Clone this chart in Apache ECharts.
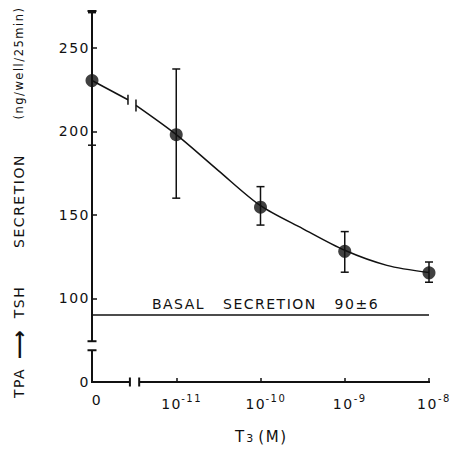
<!DOCTYPE html>
<html><head><meta charset="utf-8">
<script src="https://cdn.jsdelivr.net/npm/echarts@6/dist/echarts.min.js"></script>
<style>
html,body{margin:0;padding:0;background:#fff}
#c{width:456px;height:449px}
#c svg text{letter-spacing:1.5px}
</style>
</head><body><div id="c"></div>
<script>
// x positions are log10 of T3 concentration; the control ("0") is drawn at -12
const concLog = [-12, -11, -10, -9, -8];
const xTickLabels = ['0', '{b|10}{s|-11}', '{b|10}{s|-10}', '{b|10}{s|-9}', '{b|10}{s|-8}'];
const xTickMarks = [-11, -10, -9, -8];
// TSH secretion (ng/well/25min), mean and error bar ends
const secretionMean = [230.4, 198, 154.6, 128.2, 115.3];
const errLow = [191.7, 160, 143.9, 115.7, 109.7];
const errHigh = [271, 237.3, 166.9, 140, 121.8];
// fitted curve (broken near the axis break)
const curveSegA = [[-12, 230.4], [-11.573, 218.9]];
const curveSegB = [[-11.478, 215.5], [-11, 198], [-10.5, 176.5], [-10, 155.5], [-9.5, 141.8],
                   [-9, 128.8], [-8.5, 119.8], [-8, 115.5]];
// basal secretion
const basalValue = 90;
const basalText = 'BASAL   SECRETION   90±6';
// y axis: the "0" level is drawn at 50 (axis is broken between 0 and ~70)
const yTickValues = [50, 100, 150, 200, 250];
const yTickLabels = ['0', '100', '150', '200', '250'];
const yMin = 50, yMax = 272;
const xBreak = [-11.55, -11.44];
const yBreak = [74.4, 69];

const INK = '#111';
const FONT = 'DejaVu Sans';

const chart = echarts.init(document.getElementById('c'), null, {renderer: 'svg'});

function line(p1, p2, w) {
  return {type: 'line', shape: {x1: p1[0], y1: p1[1], x2: p2[0], y2: p2[1]},
          style: {stroke: INK, lineWidth: w}};
}

const option = {
  animation: false,
  backgroundColor: '#fff',
  grid: {left: 92, right: 27, top: 11, bottom: 66},
  xAxis: {
    type: 'value', min: -12, max: -8, interval: 1,
    axisLine: {show: false}, splitLine: {show: false},
    axisTick: {show: true, inside: true, length: 4, customValues: xTickMarks,
               lineStyle: {color: INK, width: 1.5}},
    axisLabel: {
      customValues: concLog, margin: 11, color: INK, fontFamily: FONT, fontSize: 14,
      padding: [0, 0, 0, 10],
      formatter: v => xTickLabels[concLog.indexOf(Math.round(v))],
      rich: {
        b: {fontFamily: FONT, fontSize: 14, color: INK, lineHeight: 18, verticalAlign: 'bottom'},
        s: {fontFamily: FONT, fontSize: 10, color: INK, lineHeight: 11, verticalAlign: 'top',
            padding: [0, 0, 0, 3]}
      }
    },
    name: '{t|T}{u|3}  {t|(M)}', nameLocation: 'middle', nameGap: 47,
    nameTextStyle: {
      rich: {
        t: {fontFamily: FONT, fontSize: 15, color: INK, lineHeight: 15, verticalAlign: 'top'},
        u: {fontFamily: FONT, fontSize: 11, color: INK, lineHeight: 11, verticalAlign: 'bottom',
            padding: [0, 0, 0, 2]}
      }
    }
  },
  yAxis: {
    type: 'value', min: yMin, max: yMax, interval: 50,
    axisLine: {show: false}, splitLine: {show: false},
    axisTick: {show: true, inside: true, length: 5, customValues: yTickValues.slice(1),
               lineStyle: {color: INK, width: 1.5}},
    axisLabel: {
      customValues: yTickValues, margin: 2, color: INK, fontFamily: FONT, fontSize: 14,
      formatter: v => yTickLabels[yTickValues.indexOf(Math.round(v))]
    }
  },
  graphic: [{
    type: 'text', x: 19, y: 203, rotation: Math.PI / 2,
    style: {
      text: '{a|TPA}{g| }{r|⟶}{g| }{t|TSH}{g| }{w|SECRETION}{g| }{p|(ng/well/25min)}',
      align: 'center', verticalAlign: 'middle', fill: INK,
      rich: {
        a: {fontFamily: FONT, fontSize: 14, fill: INK, width: 32, align: 'center'},
        g: {fontFamily: FONT, fontSize: 13, fill: INK, width: 3, align: 'center'},
        r: {fontFamily: FONT, fontSize: 20, fontWeight: 'bold', fill: INK, width: 40, align: 'center'},
        t: {fontFamily: FONT, fontSize: 14, fill: INK, width: 38, align: 'center'},
        w: {fontFamily: FONT, fontSize: 14, fill: INK, width: 158, align: 'center'},
        p: {fontFamily: FONT, fontSize: 11.5, fill: INK, width: 112, align: 'center'}
      }
    }
  }],
  series: [
    { // axes with breaks
      type: 'custom', silent: true, z: 3, data: [[0]],
      renderItem: (params, api) => {
        const c = v => api.coord(v);
        const k = 4.5;
        const ch = [];
        const yTop = c([-12, yMax]), yB1 = c([-12, yBreak[0]]), yB2 = c([-12, yBreak[1]]), o = c([-12, yMin]);
        const xB1 = c([xBreak[0], yMin]), xB2 = c([xBreak[1], yMin]), xEnd = c([-8, yMin]);
        ch.push(line(yTop, yB1, 2));
        ch.push(line([yTop[0] - k, yTop[1]], [yTop[0] + k, yTop[1]], 2));
        ch.push(line([yB1[0] - k, yB1[1]], [yB1[0] + k, yB1[1]], 2));
        ch.push(line(yB2, o, 2));
        ch.push(line([yB2[0] - k, yB2[1]], [yB2[0] + k, yB2[1]], 2));
        ch.push(line([o[0] - 1, o[1]], xB1, 2));
        ch.push(line([xB1[0], xB1[1] - k], [xB1[0], xB1[1] + k], 2));
        ch.push(line(xB2, [xEnd[0] + 1, xEnd[1]], 2));
        ch.push(line([xB2[0], xB2[1] - k], [xB2[0], xB2[1] + k], 2));
        // break marks on the curve
        const a = c(curveSegA[curveSegA.length - 1]), b = c(curveSegB[0]);
        ch.push(line([a[0], a[1] - 5], [a[0], a[1] + 5], 1.5));
        ch.push(line([b[0], b[1] - 6], [b[0], b[1] + 6], 1.5));
        return {type: 'group', children: ch};
      }
    },
    {
      type: 'line', data: curveSegA, smooth: false, symbol: 'none', clip: false, z: 2,
      lineStyle: {color: INK, width: 1.5}
    },
    {
      type: 'line', data: curveSegB, smooth: 0.3, symbol: 'none', clip: false, z: 2,
      lineStyle: {color: INK, width: 1.5},
      markLine: {
        silent: true, symbol: 'none',
        lineStyle: {color: INK, width: 1.5, type: 'solid'},
        label: {show: true, position: 'middle', formatter: basalText, color: INK,
                fontFamily: FONT, fontSize: 14, distance: 4, padding: [0, 0, 0, 10]},
        data: [[{coord: [-12, basalValue]}, {coord: [-8, basalValue]}]]
      }
    },
    { // error bars
      type: 'custom', z: 4,
      data: concLog.map((x, i) => [x, errLow[i], errHigh[i]]),
      renderItem: (params, api) => {
        const lo = api.coord([api.value(0), api.value(1)]);
        const hi = api.coord([api.value(0), api.value(2)]);
        const k = 4;
        return {type: 'group', children: [
          line(lo, hi, 1.5),
          line([lo[0] - k, lo[1]], [lo[0] + k, lo[1]], 1.5),
          line([hi[0] - k, hi[1]], [hi[0] + k, hi[1]], 1.5)
        ]};
      }
    },
    {
      type: 'scatter', data: concLog.map((x, i) => [x, secretionMean[i]]),
      symbol: 'circle', symbolSize: 13, clip: false, z: 5,
      itemStyle: {color: INK}
    }
  ]
};
chart.setOption(option);
</script>
</body></html>
